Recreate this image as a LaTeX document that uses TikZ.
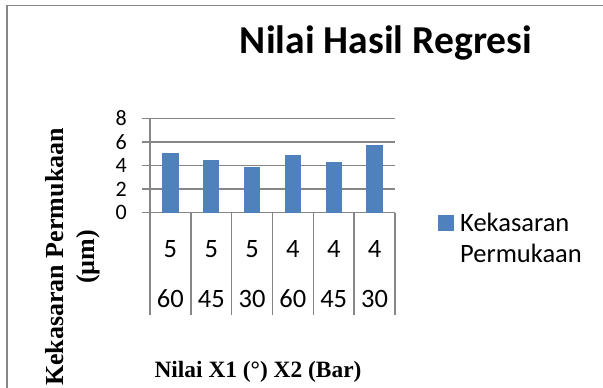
\documentclass[tikz,border=0pt]{standalone}
\usepackage{fontspec}
\setmainfont{Liberation Serif}
\newfontfamily\calibri{Carlito}
\definecolor{barblue}{HTML}{4F81BD}
\definecolor{gridgray}{HTML}{868686}

\begin{document}
\begin{tikzpicture}[x=1pt,y=-1pt,
  grid/.style={draw=gridgray,line width=1.5pt},
  lbl/.style={font=\calibri\fontsize{26.5}{31}\selectfont,inner sep=0pt},
  tick/.style={font=\calibri\fontsize{22}{24}\selectfont,inner sep=0pt,anchor=east}]
  \useasboundingbox (0,0) rectangle (603,388);
  % frame of the chart
  \draw[grid] (603,5.5) -- (7,5.5) -- (7,388);
  \node (title) at (386,53) [anchor=base,inner sep=0pt,font=\calibri\bfseries\fontsize{39.6}{46}\selectfont] {Nilai Hasil Regresi};
  % grid lines and y ticks
  \foreach \v in {0,2,4,6,8} {
    \draw[grid] (141.7,212.7-\v*11.8) -- (395,212.7-\v*11.8);
    \node (y\v) at (127,212.7-\v*11.8) [tick] {\v};
  }
  \draw[grid] (150,118.3) -- (150,212.7);
  % bars
  \foreach \h [count=\i] in {5.08,4.47,3.9,4.89,4.32,5.74}
    \fill[barblue] ({150+(\i-0.5)*40.83-8.2},212.7) rectangle ++(16.4,-\h*11.8);
  % category table
  \foreach \i in {0,...,6}
    \draw[grid] ({150+\i*40.83},212.7) -- ({150+\i*40.83},315);
  \foreach \a/\b [count=\i] in {5/60,5/45,5/30,4/60,4/45,4/30} {
    \node (a\i) at ({150+(\i-0.5)*40.83},249) [lbl] {\a};
    \node (b\i) at ({150+(\i-0.5)*40.83},299) [lbl] {\b};
  }
  % legend
  \fill[barblue] (438,215) rectangle (454,231);
  \node (leg1) at (460,231) [lbl,anchor=base west] {Kekasaran};
  \node (leg2) at (460,262) [lbl,anchor=base west] {Permukaan};
  % axis titles
  \node (xlab) at (258,377) [anchor=base,inner sep=0pt,font=\bfseries\fontsize{23.4}{27}\selectfont] {Nilai X1 (°) X2 (Bar)};
  \node (ylab) at (72.5,257) [rotate=90,align=center,inner sep=0pt,font=\bfseries\fontsize{26}{30.5}\selectfont] {Kekasaran Permukaan\\(µm)};
\end{tikzpicture}
\end{document}
